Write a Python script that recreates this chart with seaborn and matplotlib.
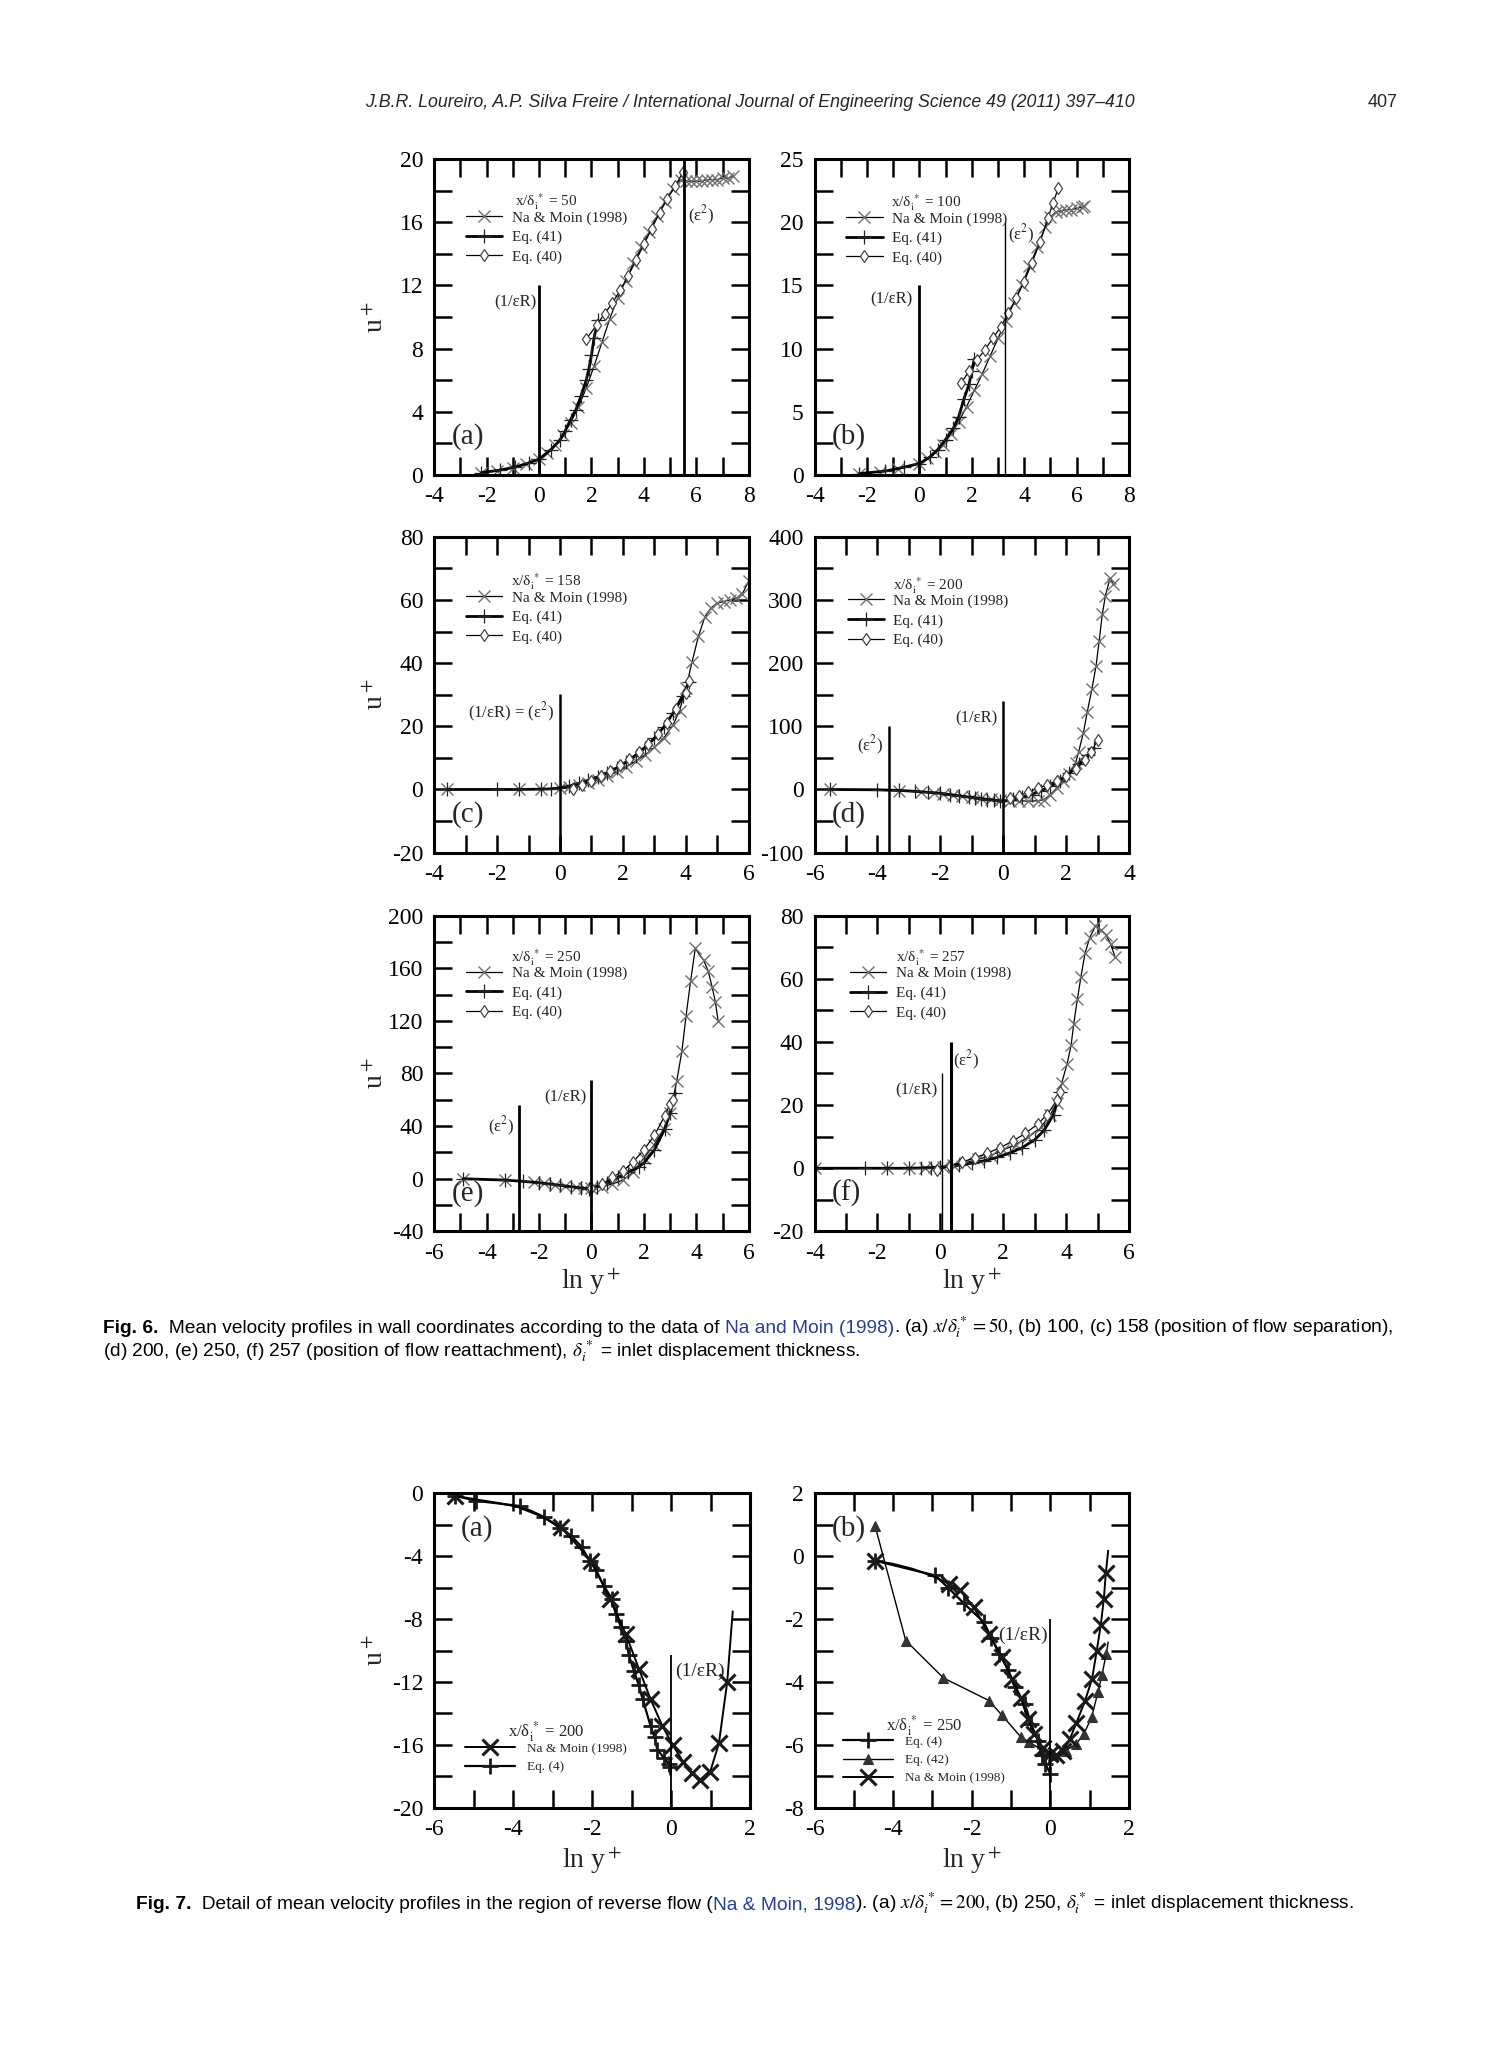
import numpy as np
import pandas as pd
import matplotlib
matplotlib.use("Agg")
import matplotlib.pyplot as plt
import seaborn as sns
from matplotlib.lines import Line2D
from matplotlib.ticker import MultipleLocator, FuncFormatter

sns.set_theme(style="ticks")
plt.rcParams['font.family'] = ['Liberation Serif', 'DejaVu Serif']
plt.rcParams['mathtext.fontset'] = 'stix'
plt.rcParams['axes.unicode_minus'] = False
plt.rcParams['legend.numpoints'] = 1

# ---------------- Fig. 6 data ----------------
# (a) x/delta = 50
a_na_x = [-2.2, -1.6, -1.0, -0.5, 0.0, 0.3, 0.6, 0.9, 1.2, 1.5, 1.8, 2.1, 2.4, 2.7, 3.0, 3.3, 3.6, 3.9, 4.2, 4.5,
          4.8, 5.1, 5.4, 5.6, 5.8, 6.0, 6.2, 6.4, 6.6, 6.8, 7.0, 7.2, 7.4]
a_na_y = [0.15, 0.25, 0.45, 0.7, 1.0, 1.4, 1.9, 2.5, 3.3, 4.3, 5.5, 6.9, 8.4, 9.9, 11.2, 12.3, 13.4, 14.4, 15.4, 16.4,
          17.3, 18.1, 18.7, 18.6, 18.6, 18.6, 18.6, 18.7, 18.7, 18.7, 18.8, 18.8, 18.9]
a_41_x = [-2.2, -1.5, -0.9, -0.4, 0.0, 0.45, 0.8, 1.0, 1.2, 1.4, 1.6, 1.8, 1.9, 2.0, 2.1, 2.25]
a_41_y = [0.15, 0.3, 0.5, 0.75, 1.0, 1.6, 2.2, 2.8, 3.5, 4.1, 5.0, 6.0, 6.7, 7.6, 8.7, 9.8]
a_40_x = [1.8, 2.2, 2.5, 2.8, 3.1, 3.4, 3.7, 4.0, 4.3, 4.6, 4.9, 5.2, 5.5]
a_40_y = [8.6, 9.5, 10.2, 10.9, 11.7, 12.6, 13.6, 14.6, 15.6, 16.6, 17.5, 18.3, 19.2]

# (b) x/delta = 100
b_na_x = [-2.3, -1.5, -0.8, 0.0, 0.3, 0.6, 0.9, 1.2, 1.5, 1.8, 2.1, 2.4, 2.7, 3.0, 3.3, 3.6, 3.9, 4.2, 4.5, 4.8,
          5.0, 5.2, 5.4, 5.6, 5.8, 6.0, 6.2, 6.3]
b_na_y = [0.1, 0.25, 0.5, 0.9, 1.3, 1.8, 2.4, 3.2, 4.2, 5.4, 6.7, 8.0, 9.4, 10.8, 12.2, 13.6, 15.0, 16.5, 18.0, 19.6,
          20.4, 20.8, 20.9, 21.0, 21.0, 21.1, 21.2, 21.3]
b_41_x = [-2.3, -1.3, -0.6, 0.0, 0.4, 0.7, 1.0, 1.3, 1.5, 1.7, 1.9, 2.0, 2.1]
b_41_y = [0.1, 0.3, 0.6, 0.9, 1.4, 2.0, 2.8, 3.7, 4.6, 6.0, 7.2, 8.2, 9.2]
b_40_x = [1.6, 1.9, 2.2, 2.5, 2.8, 3.1, 3.4, 3.7, 4.0, 4.3, 4.6, 4.9, 5.1, 5.3]
b_40_y = [7.3, 8.2, 9.1, 9.9, 10.8, 11.7, 12.8, 14.0, 15.3, 16.8, 18.4, 20.3, 21.5, 22.7]

# (c) x/delta = 158
c_na_x = [-3.6, -1.3, -0.6, 0.0, 0.3, 0.6, 0.9, 1.2, 1.5, 1.8, 2.1, 2.4, 2.7, 3.0, 3.3, 3.6, 3.8, 4.0, 4.2, 4.4,
          4.6, 4.8, 5.0, 5.2, 5.4, 5.6, 5.8, 6.0]
c_na_y = [0, 0, 0.1, 0.4, 0.9, 1.5, 2.2, 3.1, 4.3, 5.6, 7.1, 8.9, 10.9, 13.3, 16.3, 20.5, 25.0, 32.0, 40.5, 48.5,
          54.5, 57.5, 59.0, 59.5, 60.0, 60.5, 62.0, 66.0]
c_41_x = [-3.6, -2.0, -1.3, -0.6, -0.3, 0.0, 0.3, 0.6, 0.9, 1.2, 1.5, 1.8, 2.1, 2.4, 2.7, 3.0, 3.3, 3.6, 3.9, 4.1]
c_41_y = [0, 0, 0, 0.1, 0.2, 0.5, 1.1, 1.9, 2.9, 4.0, 5.3, 6.8, 8.6, 10.7, 13.2, 16.2, 19.8, 24.3, 29.7, 34.0]
c_40_x = [0.4, 0.7, 1.0, 1.3, 1.6, 1.9, 2.2, 2.5, 2.8, 3.1, 3.4, 3.7, 4.0, 4.1]
c_40_y = [0.2, 1.4, 2.7, 4.2, 5.8, 7.6, 9.6, 11.9, 14.5, 17.5, 21.1, 25.5, 30.6, 34.2]

# (d) x/delta = 200
d_na_x = [-5.5, -3.3, -2.6, -2.2, -1.9, -1.6, -1.3, -1.0, -0.7, -0.4, -0.1, 0.2, 0.5, 0.8, 1.1, 1.3, 1.5, 1.7,
          1.9, 2.1, 2.3, 2.4, 2.55, 2.67, 2.82, 2.95, 3.05, 3.15, 3.25, 3.4, 3.5]
d_na_y = [0, -2, -4, -6, -7, -9, -10.5, -12, -13.5, -15, -16.5, -17.5, -18, -18.5, -18, -16, -8, 2,
          14, 25, 42, 60, 90, 122, 159, 195, 235, 277, 307, 335, 325]
d_41_x = [-5.5, -4.0, -3.3, -2.8, -2.4, -2.0, -1.7, -1.4, -1.1, -0.9, -0.7, -0.5, -0.3, -0.1, 0.0, 0.3, 0.6,
          0.9, 1.2, 1.5, 1.8, 2.1, 2.4, 2.7, 2.9]
d_41_y = [0, -0.5, -1.5, -3, -4.5, -6, -8, -10, -12, -13, -14.5, -16, -17, -18.5, -19, -15, -12,
          -8, -2, 5, 14, 26, 40, 55, 65]
d_40_x = [0.2, 0.5, 0.8, 1.1, 1.4, 1.7, 2.0, 2.3, 2.6, 2.8, 3.0]
d_40_y = [-14, -10, -4, 2, 7, 14, 22, 32, 46, 60, 78]

# (e) x/delta = 250
e_na_x = [-4.9, -3.3, -2.2, -1.8, -1.4, -1.0, -0.6, -0.3, 0.0, 0.4, 0.8, 1.2, 1.6, 2.0, 2.4, 2.76, 3.0, 3.25,
          3.45, 3.61, 3.78, 3.96, 4.28, 4.45, 4.6, 4.73, 4.83]
e_na_y = [0, -1, -2.5, -3.5, -4.5, -5.5, -6.5, -7, -7, -6, -4, -1, 5, 16, 26, 38, 50, 74,
          97, 124, 150, 175, 166, 158, 146, 134, 120]
e_41_x = [-4.9, -3.3, -2.6, -2.0, -1.6, -1.2, -0.8, -0.4, -0.1, 0.2, 0.6, 1.0, 1.4, 1.8, 2.0, 2.4, 2.8, 3.0, 3.2]
e_41_y = [0, -1, -2, -3, -4, -5, -6, -7, -7.5, -6, -3, 1, 5, 9, 12, 22, 38, 50, 65]
e_40_x = [0.0, 0.4, 0.8, 1.2, 1.6, 2.0, 2.4, 2.8, 3.0, 3.1]
e_40_y = [-7, -4, 1, 6, 13, 22, 33, 48, 57, 60]

# (f) x/delta = 257
f_na_x = [-4.0, -1.7, -1.0, -0.5, -0.2, 0.1, 0.4, 0.8, 1.2, 1.6, 2.0, 2.4, 2.8, 3.2, 3.5, 3.7, 3.86, 4.03, 4.16,
          4.24, 4.36, 4.47, 4.6, 4.75, 4.93, 5.1, 5.26, 5.42, 5.55]
f_na_y = [0, 0, 0.1, 0.2, 0.3, 0.5, 1.0, 1.8, 2.8, 4.0, 5.8, 7.5, 9.8, 13.0, 17.0, 20.5, 27, 33, 39,
          45.6, 53.6, 60.5, 68, 73, 76.6, 75.5, 74, 71, 67]
f_41_x = [-4.0, -2.4, -1.7, -1.0, -0.6, -0.3, 0.0, 0.3, 0.6, 1.0, 1.4, 1.8, 2.2, 2.6, 3.0, 3.3, 3.6, 3.8]
f_41_y = [0, 0, 0, 0, 0.1, 0.2, 0.3, 0.6, 1.0, 1.6, 2.4, 3.4, 4.8, 6.5, 9.0, 12.0, 17.0, 24.0]
f_40_x = [-0.1, 0.3, 0.7, 1.1, 1.5, 1.9, 2.3, 2.7, 3.1, 3.4, 3.7, 3.8]
f_40_y = [-0.6, 0.8, 2.0, 3.3, 4.8, 6.5, 8.6, 11.0, 14.0, 17.0, 21.5, 24.0]

# ---------------- Fig. 7 data ----------------
# (a) x/delta = 200 ; Na & Moin curve path, markers only on measured points
g_na_x = [-5.47, -4.9, -4.4, -3.9, -3.3, -2.79, -2.03, -1.55, -1.15, -0.81, -0.52, -0.22, 0.04, 0.31, 0.53, 0.74,
          0.99, 1.21, 1.42, 1.56]
g_na_y = [-0.15, -0.4, -0.6, -0.85, -1.45, -2.16, -4.28, -6.7, -8.94, -11.2, -13.1, -14.8, -16.0, -17.1, -17.8,
          -18.2, -17.7, -15.9, -12.0, -7.5]
g_na_mark = [0, 5, 6, 7, 8, 9, 10, 11, 12, 13, 14, 15, 16, 17, 18]
g_4_x = [-5.47, -4.95, -3.83, -3.21, -2.82, -2.53, -2.27, -2.06, -1.9, -1.7, -1.5, -1.4, -1.27, -1.14, -1.07,
         -0.94, -0.82, -0.72, -0.52, -0.42, -0.35, -0.19, -0.06, -0.03]
g_4_y = [-0.15, -0.47, -0.8, -1.5, -2.2, -2.7, -3.4, -4.3, -4.9, -5.9, -6.7, -7.7, -8.5, -9.4, -10.3,
         -11.3, -12.2, -13.1, -14.8, -15.5, -16.3, -16.8, -17.2, -17.4]

# (b) x/delta = 250
h_4_x = [-4.46, -2.93, -2.6, -2.2, -1.69, -1.5, -1.3, -1.07, -0.91, -0.65, -0.49, -0.32, -0.22, -0.13, 0.0]
h_4_y = [-0.14, -0.61, -1.0, -1.5, -2.1, -2.6, -3.1, -3.63, -4.16, -4.69, -5.33, -5.86, -6.33, -6.6, -6.92]
h_42_x = [-4.46, -3.68, -2.72, -1.56, -1.23, -0.75, -0.54, -0.19, 0.07, 0.40, 0.66, 0.85, 1.05, 1.21, 1.31, 1.42, 1.47]
h_42_y = [0.97, -2.68, -3.87, -4.59, -5.06, -5.75, -5.91, -6.18, -6.33, -6.18, -5.96, -5.65, -5.12, -4.32, -3.79,
          -3.10, -2.73]
h_42_mark = list(range(16))
h_na_x = [-4.46, -4.0, -3.5, -3.0, -2.57, -2.31, -1.95, -1.56, -1.23, -0.97, -0.75, -0.58, -0.41, -0.19, 0.0, 0.14,
          0.33, 0.5, 0.66, 0.88, 1.06, 1.18, 1.28, 1.36, 1.41, 1.47]
h_na_y = [-0.14, -0.24, -0.4, -0.63, -0.88, -1.07, -1.62, -2.47, -3.21, -3.9, -4.5, -5.17, -5.65, -6.09, -6.3, -6.33,
          -6.18, -5.8, -5.3, -4.6, -3.9, -3.0, -2.2, -1.36, -0.53, 0.18]
h_na_mark = [0] + list(range(4, 25))

# vertical marker lines: x position, top value
a_vl = [(0.0, 12.0), (5.53, 20.0)]
b_vl = [(0.0, 15.0), (3.28, 20.0)]
c_vl = [(0.0, 30.3)]
d_vl = [(-3.62, 100.0), (0.0, 140.0)]
e_vl = [(-2.75, 56.0), (0.0, 75.0)]
f_vl = [(0.05, 30.0), (0.33, 40.0)]
g_vl = [(0.0, -10.3)]
h_vl = [(0.0, -2.0)]

# ---------------- styles ----------------
NA6 = dict(color='black', linewidth=0.9, marker='x', markersize=8, markeredgecolor='#707070', markeredgewidth=1.0)
EQ41 = dict(color='black', linewidth=2.0, marker='+', markersize=10, markeredgecolor='#222222', markeredgewidth=0.9)
EQ40 = dict(color='black', linewidth=0.9, marker='d', markersize=6.5, markeredgecolor='#444444',
            markerfacecolor='white', markeredgewidth=0.9)
NA7 = dict(color='black', linewidth=1.4, marker='x', markersize=11, markeredgecolor='#1a1a1a', markeredgewidth=2.2)
EQ4 = dict(color='black', linewidth=1.6, marker='+', markersize=12, markeredgecolor='#1a1a1a', markeredgewidth=2.0)
EQ42 = dict(color='black', linewidth=1.0, marker='^', markersize=7, markeredgecolor='#333333',
            markerfacecolor='#333333', markeredgewidth=0.8)

fig = plt.figure(figsize=(15.12, 20.63), dpi=100)

W, H = 0.2080, 0.1531
L1, L2 = 0.2872, 0.5387
B1, B2, B3, B7 = 0.7698, 0.5867, 0.4031, 0.1237


def fmt(v, pos):
    return '%d' % round(v)


def setup(ax, xlim, ylim, xstep, ystep, xminor, yminor):
    ax.set_xlim(xlim)
    ax.set_ylim(ylim)
    ax.xaxis.set_major_locator(MultipleLocator(xstep))
    ax.xaxis.set_minor_locator(MultipleLocator(xminor))
    ax.yaxis.set_major_locator(MultipleLocator(ystep))
    ax.yaxis.set_minor_locator(MultipleLocator(yminor))
    ax.xaxis.set_major_formatter(FuncFormatter(fmt))
    ax.yaxis.set_major_formatter(FuncFormatter(fmt))
    ax.tick_params(which='both', direction='in', top=True, right=True, length=13, width=1.8,
                   labelsize=17, colors='black')
    ax.tick_params(axis='x', pad=8)
    ax.tick_params(axis='y', pad=8)
    for s in ax.spines.values():
        s.set_linewidth(2.2)
        s.set_color('black')
    ax.set_facecolor('white')


def draw(ax, x, y, style, mark=None):
    kw = dict(style)
    if mark is not None:
        kw['markevery'] = mark
    sns.lineplot(x=x, y=y, ax=ax, sort=False, estimator=None, legend=False, **kw)


def vlines(ax, vl, widths):
    y0 = ax.get_ylim()[0]
    for (xv, top), w in zip(vl, widths):
        ax.vlines(xv, y0, top, color='black', linewidth=w)


def legend(ax, title, styles, labels, anchor, fs=11, tfs=11, hl=2.4, ls=0.38, tp=0.6, sep=-1.2):
    handles = [Line2D([], [], **st) for st in styles]
    leg = ax.legend(handles, labels, title=title, loc='upper left', bbox_to_anchor=anchor, frameon=False,
                    fontsize=fs, title_fontsize=tfs, handlelength=hl, labelspacing=ls, handletextpad=tp,
                    borderpad=0, borderaxespad=0)
    leg._legend_box.align = 'center'
    leg._legend_box.sep = sep


def notes(ax, items, fs=12):
    for xv, yv, s, ha in items:
        ax.text(xv, yv, s, ha=ha, va='center', fontsize=fs)


fig6 = [
    dict(pos=(L1, B1), lim=((-4, 8), (0, 20)), st=(2, 4, 1, 2), tag='(a)', t='50',
         data=[(a_na_x, a_na_y, NA6), (a_41_x, a_41_y, EQ41), (a_40_x, a_40_y, EQ40)],
         vl=a_vl, vw=[2.0, 2.0], anchor=(0.10, 0.897),
         notes=[(-0.11, 10.9, '(1/εR)', 'right'), (5.67, 16.45, '(ε$^2$)', 'left')]),
    dict(pos=(L2, B1), lim=((-4, 8), (0, 25)), st=(2, 5, 1, 2.5), tag='(b)', t='100',
         data=[(b_na_x, b_na_y, NA6), (b_41_x, b_41_y, EQ41), (b_40_x, b_40_y, EQ40)],
         vl=b_vl, vw=[2.0, 1.0], anchor=(0.10, 0.894),
         notes=[(-0.27, 13.9, '(1/εR)', 'right'), (3.38, 19.0, '(ε$^2$)', 'left')]),
    dict(pos=(L1, B2), lim=((-4, 6), (-20, 80)), st=(2, 20, 1, 10), tag='(c)', t='158',
         data=[(c_na_x, c_na_y, NA6), (c_41_x, c_41_y, EQ41), (c_40_x, c_40_y, EQ40)],
         vl=c_vl, vw=[1.8], anchor=(0.10, 0.89),
         notes=[(-0.19, 24.3, '(1/εR) = (ε$^2$)', 'right')]),
    dict(pos=(L2, B2), lim=((-6, 4), (-100, 400)), st=(2, 100, 1, 50), tag='(d)', t='200',
         data=[(d_na_x, d_na_y, NA6), (d_41_x, d_41_y, EQ41), (d_40_x, d_40_y, EQ40)],
         vl=d_vl, vw=[1.8, 1.8], anchor=(0.105, 0.879),
         notes=[(-3.81, 70, '(ε$^2$)', 'right'), (-0.17, 113, '(1/εR)', 'right')]),
    dict(pos=(L1, B3), lim=((-6, 6), (-40, 200)), st=(2, 40, 1, 20), tag='(e)', t='250',
         data=[(e_na_x, e_na_y, NA6), (e_41_x, e_41_y, EQ41), (e_40_x, e_40_y, EQ40)],
         vl=e_vl, vw=[2.0, 2.0], anchor=(0.10, 0.90),
         notes=[(-2.95, 40, '(ε$^2$)', 'right'), (-0.19, 62, '(1/εR)', 'right')]),
    dict(pos=(L2, B3), lim=((-4, 6), (-20, 80)), st=(2, 20, 1, 10), tag='(f)', t='257',
         data=[(f_na_x, f_na_y, NA6), (f_41_x, f_41_y, EQ41), (f_40_x, f_40_y, EQ40)],
         vl=f_vl, vw=[1.0, 2.2], anchor=(0.112, 0.899),
         notes=[(-0.09, 24.7, '(1/εR)', 'right'), (0.41, 34.3, '(ε$^2$)', 'left')]),
]

for i, p in enumerate(fig6):
    ax = fig.add_axes([p['pos'][0], p['pos'][1], W, H])
    setup(ax, p['lim'][0], p['lim'][1], *p['st'])
    for x, y, st in p['data']:
        draw(ax, x, y, st)
    vlines(ax, p['vl'], p['vw'])
    notes(ax, p['notes'])
    legend(ax, 'x/δ$_{\\rm i}^{\\,*}$ = ' + p['t'], [NA6, EQ41, EQ40],
           ['Na & Moin (1998)', 'Eq. (41)', 'Eq. (40)'], p['anchor'])
    ax.text(0.055, 0.12, p['tag'], transform=ax.transAxes, fontsize=21, va='center', ha='left')
    ax.set_xlabel('')
    ax.set_ylabel('')
    if i % 2 == 0:
        ax.set_ylabel('u$^+$', fontsize=20)
        ax.yaxis.set_label_coords(-0.145, 0.5)
    if i >= 4:
        ax.set_xlabel('ln y$^+$', fontsize=20)
        ax.xaxis.set_label_coords(0.5, -0.11)

# Fig. 7 (a)
ax = fig.add_axes([L1, B7, 0.2089, 0.1524])
setup(ax, (-6, 2), (-20, 0), 2, 4, 1, 2)
draw(ax, g_4_x, g_4_y, EQ4)
draw(ax, g_na_x, g_na_y, NA7, g_na_mark)
vlines(ax, g_vl, [1.3])
notes(ax, [(0.1, -11.3, '(1/εR)', 'left')], fs=14)
legend(ax, 'x/δ$_{\\rm i}^{\\,*}$ = 200', [NA7, EQ4], ['Na & Moin (1998)', 'Eq. (4)'], (0.097, 0.281),
       fs=9.5, tfs=12, hl=3.8, ls=0.48, tp=0.9, sep=-1.2)
ax.text(0.085, 0.887, '(a)', transform=ax.transAxes, fontsize=21, va='center', ha='left')
ax.set_ylabel('u$^+$', fontsize=20)
ax.yaxis.set_label_coords(-0.145, 0.5)
ax.set_xlabel('ln y$^+$', fontsize=20)
ax.xaxis.set_label_coords(0.5, -0.12)

# Fig. 7 (b)
ax = fig.add_axes([L2, B7, 0.2080, 0.1524])
setup(ax, (-6, 2), (-8, 2), 2, 2, 1, 1)
draw(ax, h_42_x, h_42_y, EQ42, h_42_mark)
draw(ax, h_4_x, h_4_y, EQ4)
draw(ax, h_na_x, h_na_y, NA7, h_na_mark)
vlines(ax, h_vl, [1.3])
notes(ax, [(-0.06, -2.5, '(1/εR)', 'right')], fs=14)
legend(ax, 'x/δ$_{\\rm i}^{\\,*}$ = 250', [EQ4, EQ42, NA7], ['Eq. (4)', 'Eq. (42)', 'Na & Moin (1998)'],
       (0.09, 0.302), fs=9.5, tfs=12, hl=3.8, ls=0.45, tp=0.9, sep=-1.4)
ax.text(0.054, 0.887, '(b)', transform=ax.transAxes, fontsize=21, va='center', ha='left')
ax.set_ylabel('')
ax.set_xlabel('ln y$^+$', fontsize=20)
ax.xaxis.set_label_coords(0.5, -0.12)

# ---------------- page text ----------------
SANS = ['Liberation Sans Narrow', 'Liberation Sans', 'DejaVu Sans']
BLUE = '#26408f'
fig.text(0.496, 1 - 78 / 1568, 'J.B.R. Loureiro, A.P. Silva Freire / International Journal of Engineering Science 49 (2011) 397–410',
         ha='center', va='center', fontsize=12.8, style='italic', family=SANS)
fig.text(1062 / 1149, 1 - 78 / 1568, '407', ha='right', va='center', fontsize=13, family=SANS)

fig.canvas.draw()
renderer = fig.canvas.get_renderer()


def rich(x, y, parts, size=13.8):
    for s, color, weight in parts:
        t = fig.text(x, y, s, fontsize=size, color=color, fontweight=weight, family=SANS,
                     ha='left', va='baseline')
        x += t.get_window_extent(renderer).width / fig.bbox.width


rich(78 / 1149, 1 - 1013 / 1568, [
    ('Fig. 6.', 'black', 'bold'),
    ('  Mean velocity profiles in wall coordinates according to the data of ', 'black', 'normal'),
    ('Na and Moin (1998)', BLUE, 'normal'),
    ('. (a) $x/\\delta_i^*=50$, (b) 100, (c) 158 (position of flow separation),', 'black', 'normal')])
rich(78 / 1149, 1 - 1031 / 1568, [
    ('(d) 200, (e) 250, (f) 257 (position of flow reattachment), $\\delta_i^*$ = inlet displacement thickness.',
     'black', 'normal')])
rich(103 / 1149, 1 - 1451 / 1568, [
    ('Fig. 7.', 'black', 'bold'),
    ('  Detail of mean velocity profiles in the region of reverse flow (', 'black', 'normal'),
    ('Na & Moin, 1998', BLUE, 'normal'),
    ('). (a) $x/\\delta_i^*=200$, (b) 250, $\\delta_i^*$ = inlet displacement thickness.', 'black', 'normal')])

fig.savefig('out.png', dpi=100, facecolor='white')
